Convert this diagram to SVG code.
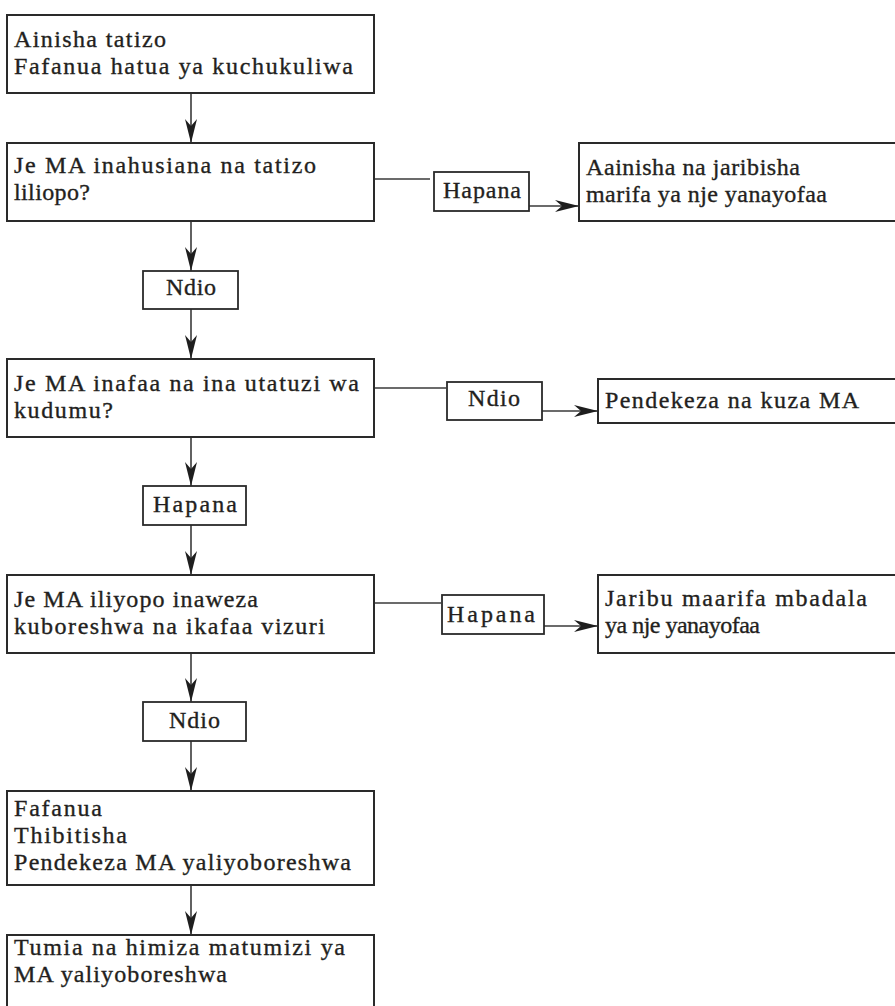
<svg xmlns="http://www.w3.org/2000/svg" width="895" height="1006" viewBox="0 0 895 1006">
<style>
.box{fill:#fff;stroke:#2a2a2a;stroke-width:2}
.lbl{fill:#fff;stroke:#2a2a2a;stroke-width:1.8}
.t{font-family:"Liberation Serif","Times New Roman",serif;font-size:24px;fill:#231f20;stroke:#231f20;stroke-width:0.35}
.c{fill:none;stroke:#3a3a3a;stroke-width:1.6}
</style>
<defs>
<marker id="ah" markerUnits="userSpaceOnUse" markerWidth="24" markerHeight="12" refX="24" refY="6" orient="auto" viewBox="0 0 24 12">
<path d="M0,0 L24,6 L0,12 L7,6 Z" fill="#1e1e1e"/>
</marker>
</defs>
<rect width="895" height="1006" fill="#fff"/>
<g id="connectors">
<line class="c" x1="191" y1="93" x2="191" y2="143" marker-end="url(#ah)"/>
<line class="c" x1="191" y1="221" x2="191" y2="271" marker-end="url(#ah)"/>
<line class="c" x1="191" y1="309" x2="191" y2="359" marker-end="url(#ah)"/>
<line class="c" x1="191" y1="437" x2="191" y2="486" marker-end="url(#ah)"/>
<line class="c" x1="191" y1="525" x2="191" y2="575" marker-end="url(#ah)"/>
<line class="c" x1="191" y1="653" x2="191" y2="702" marker-end="url(#ah)"/>
<line class="c" x1="191" y1="741" x2="191" y2="791" marker-end="url(#ah)"/>
<line class="c" x1="191" y1="885" x2="191" y2="935" marker-end="url(#ah)"/>
<line class="c" x1="374" y1="179" x2="430" y2="179"/>
<line class="c" x1="529" y1="206" x2="579" y2="206" marker-end="url(#ah)"/>
<line class="c" x1="374" y1="388" x2="446" y2="388"/>
<line class="c" x1="542" y1="411" x2="598" y2="411" marker-end="url(#ah)"/>
<line class="c" x1="374" y1="603" x2="441" y2="603"/>
<line class="c" x1="544" y1="626" x2="598" y2="626" marker-end="url(#ah)"/>
</g>
<g id="n1"><rect class="box" x="7" y="15" width="367" height="78"/>
<text class="t" x="14" y="47" textLength="152" lengthAdjust="spacing">Ainisha tatizo</text>
<text class="t" x="14" y="74" textLength="339" lengthAdjust="spacing">Fafanua hatua ya kuchukuliwa</text></g>
<g id="n2"><rect class="box" x="7" y="143" width="367" height="78"/>
<text class="t" x="14" y="173" textLength="302" lengthAdjust="spacing">Je MA inahusiana na tatizo</text>
<text class="t" x="14" y="200" textLength="76" lengthAdjust="spacing">liliopo?</text></g>
<g id="l1"><rect class="lbl" x="434" y="172" width="95" height="39"/>
<text class="t" x="443" y="198" textLength="78" lengthAdjust="spacing">Hapana</text></g>
<g id="r1"><rect class="box" x="579" y="143" width="330" height="78"/>
<text class="t" x="586" y="175" textLength="214" lengthAdjust="spacing">Aainisha na jaribisha</text>
<text class="t" x="586" y="202" textLength="241" lengthAdjust="spacing">marifa ya nje yanayofaa</text></g>
<g id="l2"><rect class="lbl" x="143" y="271" width="95" height="38"/>
<text class="t" x="166" y="295" textLength="50" lengthAdjust="spacing">Ndio</text></g>
<g id="n3"><rect class="box" x="7" y="359" width="367" height="78"/>
<text class="t" x="14" y="391" textLength="345" lengthAdjust="spacing">Je MA inafaa na ina utatuzi wa</text>
<text class="t" x="14" y="418" textLength="99" lengthAdjust="spacing">kudumu?</text></g>
<g id="l3"><rect class="lbl" x="447" y="382" width="95" height="38"/>
<text class="t" x="468" y="406" textLength="52" lengthAdjust="spacing">Ndio</text></g>
<g id="r2"><rect class="box" x="598" y="379" width="310" height="44"/>
<text class="t" x="605" y="408" textLength="254" lengthAdjust="spacing">Pendekeza na kuza MA</text></g>
<g id="l4"><rect class="lbl" x="143" y="486" width="103" height="39"/>
<text class="t" x="153" y="512" textLength="84" lengthAdjust="spacing">Hapana</text></g>
<g id="n4"><rect class="box" x="7" y="575" width="367" height="78"/>
<text class="t" x="14" y="607" textLength="244" lengthAdjust="spacing">Je MA iliyopo inaweza</text>
<text class="t" x="14" y="634" textLength="311" lengthAdjust="spacing">kuboreshwa na ikafaa vizuri</text></g>
<g id="l5"><rect class="lbl" x="442" y="595" width="102" height="39"/>
<text class="t" x="447" y="622" textLength="88" lengthAdjust="spacing">Hapana</text></g>
<g id="r3"><rect class="box" x="598" y="575" width="310" height="78"/>
<text class="t" x="605" y="606" textLength="262" lengthAdjust="spacing">Jaribu maarifa mbadala</text>
<text class="t" x="605" y="633" textLength="155" lengthAdjust="spacing">ya nje yanayofaa</text></g>
<g id="l6"><rect class="lbl" x="143" y="702" width="103" height="39"/>
<text class="t" x="169" y="728" textLength="51" lengthAdjust="spacing">Ndio</text></g>
<g id="n5"><rect class="box" x="7" y="791" width="367" height="94"/>
<text class="t" x="14" y="816" textLength="88" lengthAdjust="spacing">Fafanua</text>
<text class="t" x="14" y="843" textLength="113" lengthAdjust="spacing">Thibitisha</text>
<text class="t" x="14" y="870" textLength="337" lengthAdjust="spacing">Pendekeza MA yaliyoboreshwa</text></g>
<g id="n6"><rect class="box" x="7" y="935" width="367" height="90"/>
<text class="t" x="14" y="955" textLength="331" lengthAdjust="spacing">Tumia na himiza matumizi ya</text>
<text class="t" x="14" y="982" textLength="213" lengthAdjust="spacing">MA yaliyoboreshwa</text></g>
</svg>
